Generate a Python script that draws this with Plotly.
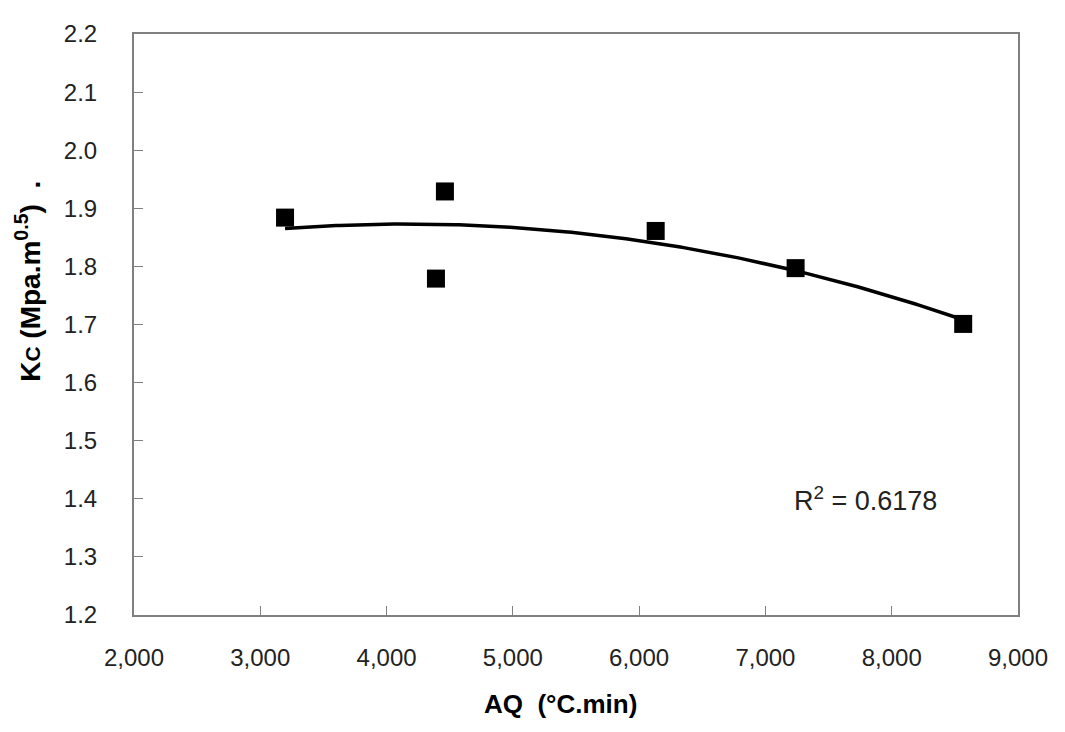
import numpy as np
import plotly.graph_objects as go

# Data
aq = [3196, 4462, 4391, 6131, 7239, 8566]
kc = [1.884, 1.929, 1.779, 1.861, 1.797, 1.701]
x_ticks = [2000, 3000, 4000, 5000, 6000, 7000, 8000, 9000]
x_tick_labels = ["2,000", "3,000", "4,000", "5,000", "6,000", "7,000", "8,000", "9,000"]
y_ticks = [1.2, 1.3, 1.4, 1.5, 1.6, 1.7, 1.8, 1.9, 2.0, 2.1, 2.2]
y_tick_labels = ["1.2", "1.3", "1.4", "1.5", "1.6", "1.7", "1.8", "1.9", "2.0", "2.1", "2.2"]
r2_text = "R<sup>2</sup> = 0.6178"

# Order-2 polynomial trendline fitted to the data
coef = np.polyfit(aq, kc, 2)
xt = np.linspace(min(aq), max(aq), 200)
yt = np.polyval(coef, xt)

fig = go.Figure()
fig.add_trace(go.Scatter(x=xt, y=yt, mode="lines",
                         line=dict(color="black", width=3.5), showlegend=False,
                         hoverinfo="skip"))
fig.add_trace(go.Scatter(x=aq, y=kc, mode="markers",
                         marker=dict(symbol="square", size=18, color="black"),
                         showlegend=False))

axis_common = dict(showline=True, linecolor="#808080", linewidth=2, mirror=True,
                   ticks="inside", ticklen=9, tickcolor="#808080", tickwidth=1,
                   showgrid=False, zeroline=False,
                   tickfont=dict(family="Liberation Sans, Arial", size=24, color="#222"))

fig.update_xaxes(range=[2000, 9000], tickvals=x_ticks, ticktext=x_tick_labels,
                 ticklabelstandoff=20, **axis_common)
fig.update_yaxes(range=[1.2, 2.2], tickvals=y_ticks, ticktext=y_tick_labels,
                 ticklabelstandoff=30, **axis_common)

fig.add_annotation(x=7796, y=1.40, xref="x", yref="y", text=r2_text, showarrow=False,
                   font=dict(family="Liberation Sans, Arial", size=27, color="#222"))

fig.add_annotation(x=-0.12, y=0.575, xref="paper", yref="paper", textangle=-90,
                   text="<b>K<span style='font-size:21px'>C</span> (Mpa.m<sup>0.5</sup>)  .</b>",
                   showarrow=False, xanchor="center", yanchor="middle",
                   font=dict(family="Liberation Sans, Arial", size=28, color="black"))

fig.add_annotation(x=0.483, y=-0.153, xref="paper", yref="paper",
                   text="<b>AQ  (°C.min)</b>", showarrow=False,
                   xanchor="center", yanchor="middle",
                   font=dict(family="Liberation Sans, Arial", size=26, color="black"))

fig.update_layout(width=1057, height=724, margin=dict(l=126, r=47, t=17, b=117),
                  plot_bgcolor="white", paper_bgcolor="white")

fig.write_html("out.html")
